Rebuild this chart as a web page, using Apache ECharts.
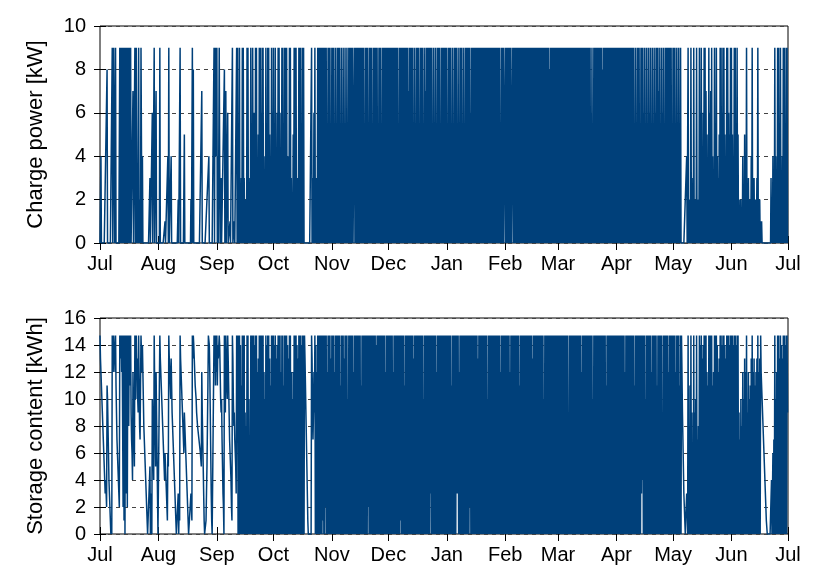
<!DOCTYPE html>
<html>
<head>
<meta charset="utf-8">
<script src="https://cdn.jsdelivr.net/npm/echarts@6/dist/echarts.min.js"></script>
<style>
  html, body { margin: 0; background: #fff; }
  #main { width: 830px; height: 581px; }
</style>
</head>
<body>
<div id="main"></div>
<script>
// month ticks (day of year, starting 1 Jul)
const monthLabels = ['Jul', 'Aug', 'Sep', 'Oct', 'Nov', 'Dec', 'Jan', 'Feb', 'Mar', 'Apr', 'May', 'Jun', 'Jul'];
const monthStarts = [0, 31, 62, 92, 123, 153, 184, 215, 243, 274, 304, 335, 365];

// 4 samples per day (0h, 6h, 12h, 18h), one string per month
// charge power: digit = kW
const chargeCodes = [
  '0040 0000 0000 0008 0000 0000 0090 0990 0900 0000 0090 0909 9090 9090 0909 0090 0900 0070 0090 0903 0090 0209 9040 0000 0000 0000 0030 0006 0009 0007 0000',
  '0009 0000 0000 0010 0000 4090 0004 0000 0000 0000 0020 0090 0000 0005 0000 0000 0000 0200 9080 0000 0000 0000 0000 7000 0000 0111 1114 0000 0000 0090 9494',
  '9040 4940 0300 0000 8007 0006 0000 1000 0900 0100 0090 9030 9020 3090 9030 2020 9090 3010 9040 9060 6090 9030 5090 9060 9090 4020 9050 9090 5030 9060',
  '9050 9030 6090 9060 3090 9020 9090 9040 4090 9030 2050 9090 9030 3090 9090 5090 9000 0000 0000 0000 0900 3060 9030 3090 9090 9090 9090 9090 9010 9090 9010',
  '9090 9020 9010 9090 9020 9020 9030 9020 9020 9090 9090 9000 9090 9090 9090 9090 9090 9040 9090 9010 9090 9010 9090 9090 9010 9090 9020 9090 9090 9090',
  '9090 9090 9090 9090 9090 9050 9090 9090 9090 9090 9070 9090 9090 9010 9020 9090 9010 9090 9010 9070 9090 9090 9090 9020 9010 9020 9090 9010 9090 9090 9090',
  '9020 9090 9010 9030 9090 9020 9010 9090 9020 9010 9090 9090 9060 9090 9090 9090 9090 9090 9090 9090 9090 9090 9090 9090 9090 9090 9090 9090 9010 9090 9000',
  '9090 9090 9090 9000 9090 9090 9090 9090 9090 9090 9090 9090 9090 9090 9090 9090 9090 9090 9090 9090 9090 9090 9090 9080 9090 9090 9090 9090',
  '9090 9090 9090 9090 9090 9090 9090 9090 9090 9090 9090 9090 9090 9090 9090 9090 9090 9060 9030 9090 9090 9090 9090 9080 9090 9090 9090 9090 9090 9090 9090',
  '9090 9090 9090 9090 9090 9090 9090 9090 9090 9050 9050 9090 9040 9090 9060 9050 9030 9060 9010 9050 9060 9090 9070 9030 9060 9030 9090 9090 9090 9040',
  '9090 9040 9040 9040 9000 0000 0000 0400 9020 2090 3010 9020 2090 1020 9060 9040 6090 9070 5030 9060 7090 4030 9050 9040 3050 9090 6090 9050 4090 9060 5090',
  '9050 4090 9030 9050 1020 2010 4020 5030 9010 3020 2040 9030 3020 2030 9020 2010 1000 0000 0000 0000 0000 3020 4030 9040 3090 9040 9030 4090 9040 9090'
];

// storage content: 0-9 and a-e = 10-14 kWh, f = full (14.7 kWh)
const storageCodes = [
  'fdcb a987 6543 432b a864 3210 10fd cffd cfb9 7654 32fe dfcf f2f1 f0f3 5f2f a8fc bf97 64c9 75fc afcd a9fb 87bf fcec a876 5432 1000 0050 320a 864f b85c 9630',
  '000f dcba 9876 5465 4321 65fd cbad b987 6543 2100 0030 21fd cba9 8769 8765 4321 0000 0321 fdfe dcbb a998 8877 7665 c975 3100 0135 8bff ec96 3100 00fd fbfc',
  'fbed dfec a9a7 5320 fb9f dbaf db97 6542 1fda 8976 53fc f0f0 f0e0 b0f0 f0f0 9080 f0f0 a070 f0f0 f0f0 e0f0 f0c0 d0f0 f0f0 f0f0 c0a0 f0e0 f0f0 d0b0 f0f0',
  'f0e0 f0d0 e0f0 f0f0 c0f0 f0b0 f0f0 f0e0 d0f0 f0c0 a0c0 f0f0 f0e0 d0f0 f0f0 e0f0 f0fd b975 3100 0000 0fd9 79c9 f0e0 c0f0 f0f0 f0f0 f1f0 f0f2 f0c0 f0f0 f0d0',
  'f0f0 f0c0 f0f0 f0f0 f0b0 f0f0 f0d0 f0f0 f0a0 f0f0 f0f0 f0c0 f0f0 f0f0 f0f0 f0b0 f0f0 f0f0 f0f0 f2f0 f0f0 f0f0 f0f0 f0e0 f0f0 f0f0 f0f0 f0f0 f0c0 f0f0',
  'f0f0 f0f0 f0c0 f0f0 f0f0 f0f0 f1f0 f0f0 f0b0 f0f0 f0f0 f0f0 f0f0 f0d0 f0f0 f0f0 f0f0 f0f0 f0a0 f0f0 f0f0 f0f0 f3f0 f0f0 f0f0 f0c0 f0f0 f0f0 f0f0 f0f0 f0f0',
  'f0f0 f0f0 f0b0 f0f0 f0f0 f3f3 f0c0 f0f0 f0f0 f0f0 f0f0 f0f0 f2f0 f0f0 f0f0 f0f0 f0d0 f0f0 f0f0 f0f0 f0f0 f0a0 f0f0 f0f0 f0f0 f0f0 f0f0 f0f0 f0c0 f0f0 f0f0',
  'f0f0 f0f0 f0c0 f0f0 f0f0 f0f0 f0f0 f0b0 f0f0 f0f0 f0f0 f0f0 f0f0 f0f0 f0d0 f0f0 f0f0 f0f0 f0f0 f0f0 f0a0 f0f0 f0f0 f0f0 f0f0 f0f0 f0f0 f0f0',
  'f0f0 f0f0 f0f0 f0f0 f0f0 f080 f0f0 f0f0 f0f0 f0f0 f0f0 f0f0 f0c0 f0f0 f0f0 f0f0 f0f0 f0f0 f0a0 f0f0 f0f0 f0f0 f0f0 f0f0 f0f0 f0b0 f0f0 f0f0 f0f0 f0f0 f0f0',
  'f0f0 f0f0 f0f0 f0f0 f0c0 f0f0 f0f0 f0f0 f0f0 f0b0 f0f0 f0f0 f0f0 f3f4 f0f0 f0a0 f0f0 f0f0 f0c0 f0f0 f0f0 f0b0 f0f0 f0f0 f090 f0f0 f0f0 f0c0 f0f0 f0f0',
  'f0f0 f0c0 f0f0 f0b0 f0fc 9753 2100 0320 f080 b0f0 9060 f090 a0f0 7080 f0e0 f0d0 e0f0 f0f0 c0b0 f0f0 f0f0 b0c0 f0f0 f0e0 c0d0 f0f0 e0f0 f0e0 d0f0 f0f0 e0f0',
  'f0f0 e0f0 f0e0 f0f0 9070 a080 c0a0 d0c0 f090 c0a0 b0d0 f0c0 d0b0 c0d0 f0c0 d0fc ba98 7654 3211 0000 0000 0403 6070 f0a0 c0f0 f0d0 f0e0 d0f0 f0e0 f0f9'
];

const codeValues = {
  '0': 0, '1': 1, '2': 2, '3': 3, '4': 4, '5': 5, '6': 6, '7': 7, '8': 8, '9': 9,
  'a': 10, 'b': 11, 'c': 12, 'd': 13, 'e': 14, 'f': 14.7
};

function decode(codes) {
  const pts = [];
  codes.forEach((s, m) => {
    const c = s.replace(/\s+/g, '');
    for (let i = 0; i < c.length; i++) {
      pts.push([monthStarts[m] + i * 0.25, codeValues[c[i]]]);
    }
  });
  return pts;
}

const fontFamily = 'Liberation Sans';
const lineColor = '#00407a';

function xAxes(gridIndex) {
  const base = {
    type: 'value',
    gridIndex: gridIndex,
    min: 0,
    max: 365,
    axisLine: { show: false },
    splitLine: { show: false },
    axisTick: { inside: true, length: 7, customValues: monthStarts, lineStyle: { color: '#000' } }
  };
  return [
    Object.assign({}, base, {
      position: 'bottom',
      axisLabel: {
        customValues: monthStarts,
        formatter: v => monthLabels[monthStarts.indexOf(v)],
        fontFamily: fontFamily, fontSize: 20, color: '#000', margin: 11
      }
    }),
    Object.assign({}, base, { position: 'top', axisLabel: { show: false } })
  ];
}

function yAxes(gridIndex, max, name) {
  return [
    {
      type: 'value', gridIndex: gridIndex, min: 0, max: max, interval: 2, position: 'left',
      name: name, nameLocation: 'middle', nameGap: 53,
      nameTextStyle: { fontFamily: fontFamily, fontSize: 22, color: '#000' },
      axisLine: { show: false },
      axisTick: { show: true, inside: true, length: 6, lineStyle: { color: '#000' } },
      axisLabel: { fontFamily: fontFamily, fontSize: 20, color: '#000', margin: 14 },
      splitLine: { show: true, lineStyle: { color: '#444', width: 1, type: [4, 4] } }
    },
    {
      type: 'value', gridIndex: gridIndex, min: 0, max: max, interval: 2, position: 'right',
      axisLine: { show: false },
      axisTick: { show: true, inside: true, length: 6, lineStyle: { color: '#000' } },
      axisLabel: { show: false },
      splitLine: { show: false }
    }
  ];
}

const chart = echarts.init(document.getElementById('main'));
chart.setOption({
  animation: false,
  backgroundColor: '#fff',
  grid: [
    { left: 100, top: 26, width: 688, height: 217, show: true, borderColor: '#000', borderWidth: 1 },
    { left: 100, top: 318, width: 688, height: 216, show: true, borderColor: '#000', borderWidth: 1 }
  ],
  xAxis: xAxes(0).concat(xAxes(1)),
  yAxis: yAxes(0, 10, 'Charge power [kW]').concat(yAxes(1, 16, 'Storage content [kWh]')),
  series: [
    {
      type: 'line', xAxisIndex: 0, yAxisIndex: 0, data: decode(chargeCodes),
      showSymbol: false, symbol: 'none', silent: true,
      lineStyle: { width: 1.5, color: lineColor }
    },
    {
      type: 'line', xAxisIndex: 2, yAxisIndex: 2, data: decode(storageCodes),
      showSymbol: false, symbol: 'none', silent: true,
      lineStyle: { width: 1.5, color: lineColor }
    }
  ]
});
</script>
</body>
</html>
